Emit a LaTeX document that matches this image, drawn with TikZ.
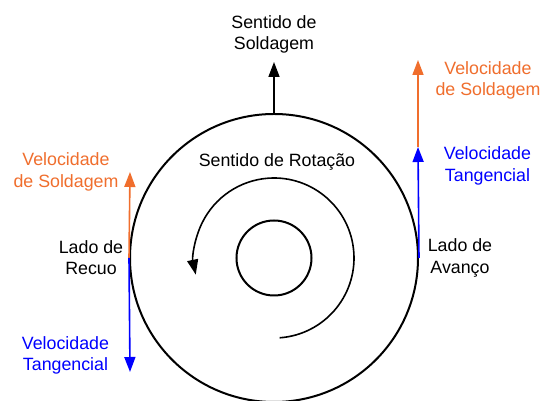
\documentclass[tikz,border=0pt]{standalone}
\usepackage{fontspec}
\setmainfont{Liberation Sans}
\usetikzlibrary{arrows.meta}
\definecolor{vsold}{RGB}{240,110,45}
\definecolor{vtang}{RGB}{0,0,255}
\begin{document}
\begin{tikzpicture}[x=1pt,y=1pt,
  lbl/.style={align=center, inner sep=0pt, font=\fontsize{17.8}{21.5}\selectfont},
  vec/.style={line width=1.6pt, -{Triangle[length=15pt,width=11pt]}},
  ring/.style={circle, draw, line width=2pt, inner sep=0pt}]
\useasboundingbox (0,0) rectangle (542,401);
\clip (0,0) rectangle (542,401);
\fill[white] (0,0) rectangle (542,401);
% disk and pin
\node[ring, minimum size=288pt] (disk) at (274,143) {};
\node[ring, minimum size=75pt] (pin) at (274,143) {};
% free ends
\coordinate (topend) at (274,339);
\coordinate (lup) at (130,229);
\coordinate (ldown) at (130,29);
\coordinate (rmid) at (418,254);
\coordinate (rup) at (418,341);
\coordinate (rotstart) at ([shift={(-86:80)}]274,143);
% arrows
\draw[vec] (disk.north) -- (topend);
\draw[vec, vsold] (disk.west) -- (lup);
\draw[vec, vtang] (disk.west) -- (ldown);
\draw[vec, vtang] (disk.east) -- (rmid);
\draw[vec, vsold] (rmid) -- (rup);
% rotation arrow
\draw[line width=1.6pt, -{Triangle[length=15pt,width=11pt]}]
  (rotstart) arc[start angle=-86, end angle=192, radius=80];
% labels
\node[lbl] (tsold) at (274,366.5) {Sentido de\\Soldagem};
\node[lbl, text=vsold] (rvs) at (488,320.4) {Velocidade\\de Soldagem};
\node[lbl, text=vtang] (rvt) at (487.5,235.3) {Velocidade\\Tangencial};
\node[lbl] (avanco) at (460,143) {Lado de\\Avanço};
\node[lbl, text=vsold] (lvs) at (66,229.2) {Velocidade\\de Soldagem};
\node[lbl] (recuo) at (91,143.5) {Lado de\\Recuo};
\node[lbl, text=vtang] (lvt) at (65.5,45.7) {Velocidade\\Tangencial};
\node[lbl, anchor=base] (rot) at (277,234.3) {Sentido de Rotação};
\end{tikzpicture}
\end{document}
